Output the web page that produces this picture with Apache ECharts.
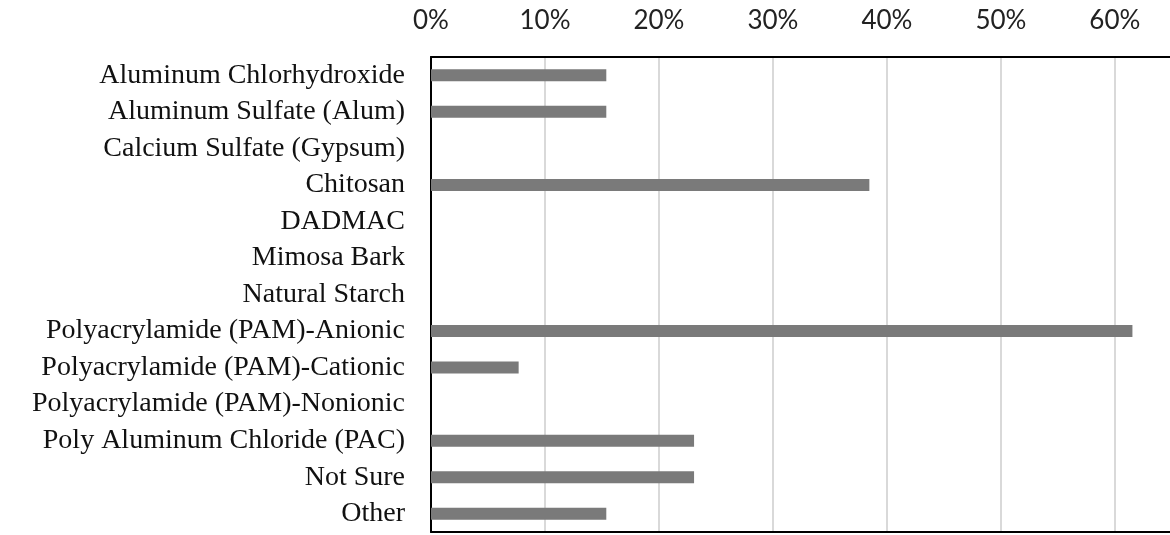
<!DOCTYPE html>
<html>
<head>
<meta charset="utf-8">
<script src="https://cdn.jsdelivr.net/npm/echarts@6/dist/echarts.min.js"></script>
<style>
  html, body { margin: 0; padding: 0; background: #fff; overflow: hidden; }
  /* a bit wider than the window: the source image is cut off on the right */
  #main { width: 1176px; height: 535px; }
</style>
</head>
<body>
<div id="main"></div>
<script>
// categories top to bottom
const categories = [
  'Aluminum Chlorhydroxide',
  'Aluminum Sulfate (Alum)',
  'Calcium Sulfate (Gypsum)',
  'Chitosan',
  'DADMAC',
  'Mimosa Bark',
  'Natural Starch',
  'Polyacrylamide (PAM)-Anionic',
  'Polyacrylamide (PAM)-Cationic',
  'Polyacrylamide (PAM)-Nonionic',
  'Poly Aluminum Chloride (PAC)',
  'Not Sure',
  'Other'
];
// percent of respondents
const shares = [15.38, 15.38, 0, 38.46, 0, 0, 0, 61.54, 7.69, 0, 23.08, 23.08, 15.38];
const tickValues = [0, 10, 20, 30, 40, 50, 60];
const axisMax = 65.1;

const chart = echarts.init(document.getElementById('main'));
const option = {
  animation: false,
  grid: {
    left: 431,
    top: 57,
    bottom: 3,
    right: 0
  },
  xAxis: [{
    type: 'value',
    position: 'top',
    min: 0,
    max: axisMax,
    interval: 10,
    axisLine: { show: true, lineStyle: { color: '#000', width: 2 } },
    axisTick: { show: false },
    splitLine: { show: true, lineStyle: { color: '#d9d9d9', width: 2 } },
    axisLabel: {
      margin: 23,
      fontFamily: 'Lato',
      fontSize: 26,
      color: '#222',
      formatter: function (v) {
        return tickValues.indexOf(v) >= 0 ? v + '%' : '';
      }
    }
  }, {
    // bottom border of the plot
    type: 'value',
    position: 'bottom',
    min: 0,
    max: axisMax,
    axisLine: { show: true, lineStyle: { color: '#000', width: 2 } },
    axisTick: { show: false },
    axisLabel: { show: false },
    splitLine: { show: false }
  }],
  yAxis: {
    type: 'category',
    inverse: true,
    data: categories,
    axisLine: { show: true, lineStyle: { color: '#000', width: 2 } },
    axisTick: { show: false },
    axisLabel: {
      margin: 26,
      fontFamily: 'Liberation Serif',
      fontSize: 28,
      color: '#111'
    }
  },
  series: [{
    type: 'bar',
    data: shares,
    barWidth: 12,
    itemStyle: { color: '#7a7a7a' }
  }]
};
chart.setOption(option);
</script>
</body>
</html>
